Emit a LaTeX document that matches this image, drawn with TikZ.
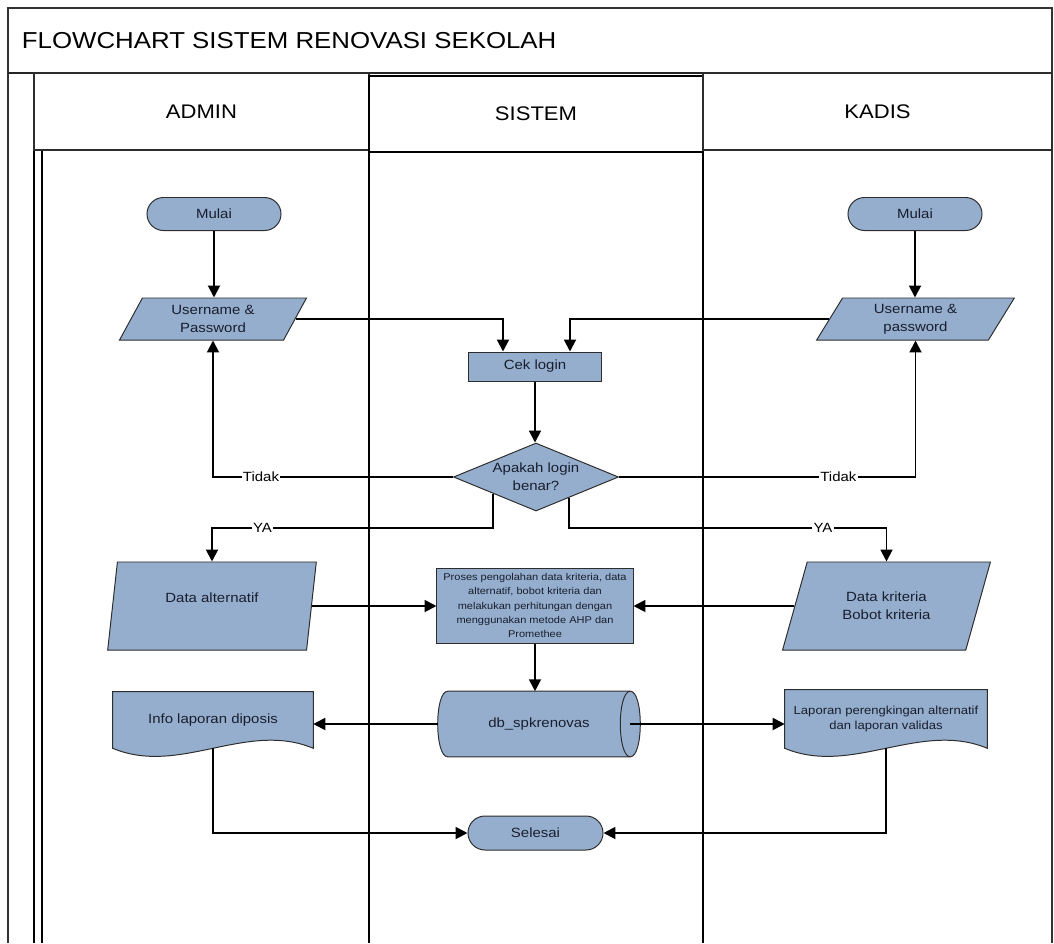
\documentclass[tikz,border=0pt]{standalone}
\usepackage{fontspec}
\setmainfont{Liberation Sans}[FakeStretch=1.12]
\usetikzlibrary{shapes.geometric,shapes.misc,arrows.meta,calc,backgrounds}

\definecolor{nodefill}{RGB}{149,174,206}
\definecolor{edgegray}{RGB}{45,45,45}
\definecolor{textdark}{RGB}{25,30,45}

\newcommand\fsTitle{\fontsize{16.4}{19}\selectfont}
\newcommand\fsHead{\fontsize{14}{16}\selectfont}
\newcommand\fsNode{\fontsize{9.5}{13}\selectfont}
\newcommand\fsSmall{\fontsize{7}{10}\selectfont}
\newcommand\fsDoc{\fontsize{8.3}{10.7}\selectfont}

\tikzset{
  shapeline/.style={draw=edgegray, line width=0.7pt, fill=nodefill},
  term/.style={rounded rectangle, shapeline, minimum width=3.35cm, minimum height=0.825cm,
    inner sep=0pt, font=\fsNode, text=textdark},
  procbox/.style={rectangle, shapeline, inner sep=0pt, font=\fsNode, text=textdark, align=center},
  io/.style={trapezium, trapezium left angle=64, trapezium right angle=116,
    trapezium stretches=true, shapeline, inner sep=0pt, font=\fsNode, text=textdark, align=center},
  decide/.style={diamond, aspect=2.4, shapeline, inner sep=0pt, minimum width=4.125cm,
    minimum height=1.7cm, font=\fsNode, text=textdark, align=center},
  ghost/.style={rectangle, draw=none, inner sep=0pt, font=\fsNode, text=textdark, align=center},
  header/.style={rectangle, draw=edgegray, line width=0.8pt, font=\fsHead, inner sep=0pt},
  lane/.style={line width=1pt, draw=black},
  arr/.style={line width=1.4pt, -{Triangle[length=8.5pt,width=8.5pt]}},
  lbl/.style={fill=white, inner sep=1pt, font=\fsNode},
}

\begin{document}
\begin{tikzpicture}[x=0.025cm, y=-0.025cm]
\useasboundingbox (0,0) rectangle (1054,943);

% title band and headers
\node[anchor=west, font=\fsTitle] (title) at (17,41) {FLOWCHART SISTEM RENOVASI SEKOLAH};
\node[header, minimum width=8.375cm, minimum height=1.925cm] (hAdmin) at (201.5,111.5) {ADMIN};
\node[header, draw=black, line width=1.1pt, minimum width=8.35cm, minimum height=1.9cm] (hSistem) at (536,114) {SISTEM};
\node[header, minimum width=8.725cm, minimum height=1.925cm] (hKadis) at (877.5,111.5) {KADIS};

% flow nodes
\node[term] (mulaiA) at (214,214) {Mulai};
\node[term] (mulaiK) at (915,214) {Mulai};
\node[io, minimum width=4.7cm, minimum height=1.05cm] (userA) at (213,319) {Username \&\\Password};
\node[io, minimum width=4.975cm, minimum height=1.05cm] (userK) at (915.5,319) {Username \&\\password};
\node[procbox, minimum width=3.3cm, minimum height=0.725cm] (cek) at (535,366.5) {Cek login};
\node[decide] (dia) at (536,477) {Apakah login\\benar?};
\node[io, minimum width=5.25cm, minimum height=2.2cm] (altA) at (212,606)
  {\raisebox{0.2cm}[\height][\depth]{Data alternatif}};
\node[io, minimum width=5.225cm, minimum height=2.2cm] (krit) at (886.5,606) {Data kriteria\\Bobot kriteria};
\node[procbox, minimum width=4.9cm, minimum height=1.875cm, font=\fsSmall] (proc) at (535,605.5)
  {Proses pengolahan data kriteria, data\\alternatif, bobot kriteria dan\\melakukan perhitungan dengan\\menggunakan metode AHP dan\\Promethee};
\node[ghost, minimum width=5.05cm, minimum height=1.625cm] (db) at (539,724) {db\_spkrenovas};
\node[ghost, minimum width=5cm, minimum height=1.4cm] (infoA) at (213,720) {Info laporan diposis};
\node[ghost, minimum width=5.05cm, minimum height=1.45cm, font=\fsDoc] (lapK) at (886,719)
  {Laporan perengkingan alternatif\\dan laporan validas};
\node[term, minimum width=3.375cm, minimum height=0.85cm] (selesai) at (535.5,833) {Selesai};

\coordinate (yaRow) at (0,528);

% pool frame, lanes and the drawn outlines of document and storage symbols
\begin{scope}[on background layer]
  \draw[line width=1.3pt, draw=black!80] (8,943) -- (8,8) -- (1052,8) -- (1052,943);
  \draw[line width=1.3pt, draw=black!85] (8,73) -- (1052,73);
  \draw[lane] (34,73) -- (34,943);
  \draw[lane, line width=0.8pt] (42,150) -- (42,943);
  \draw[lane] (369,152) -- (369,943);
  \draw[lane] (703,150) -- (703,943);

  \filldraw[shapeline] (infoA.south west) -- (infoA.north west) -- (infoA.north east) -- (infoA.south east)
    .. controls ($(infoA.south east)+(-67,-28)$) and ($(infoA.south west)+(67,28)$) .. (infoA.south west) -- cycle;
  \filldraw[shapeline] (lapK.south west) -- (lapK.north west) -- (lapK.north east) -- (lapK.south east)
    .. controls ($(lapK.south east)+(-67,-28)$) and ($(lapK.south west)+(67,28)$) .. (lapK.south west) -- cycle;

  \filldraw[shapeline] ($(db.north west)+(10,0)$)
    .. controls ($(db.north west)+(-3.3,0)$) and ($(db.south west)+(-3.3,0)$) .. ($(db.south west)+(10,0)$)
    -- ($(db.south east)+(-10,0)$)
    .. controls ($(db.south east)+(3.3,0)$) and ($(db.north east)+(3.3,0)$) .. ($(db.north east)+(-10,0)$)
    -- cycle;
  \draw[draw=edgegray, line width=0.7pt] ($(db.north east)+(-10,0)$)
    .. controls ($(db.north east)+(-23.3,0)$) and ($(db.south east)+(-23.3,0)$) .. ($(db.south east)+(-10,0)$);
\end{scope}

% connectors
\draw[arr] (mulaiA.south) -- (mulaiA.south |- userA.north);
\draw[arr] (mulaiK.south) -- (mulaiK.south |- userK.north);
\draw[arr] (userA.east) -| ($(cek.north)+(-32,0)$);
\draw[arr] (userK.west) -| ($(cek.north)+(35,0)$);
\draw[arr] (cek.south) -- (cek.south |- dia.north);
\draw[arr] (dia.west) -| (userA.south -| userA.center) node[lbl, pos=0.4] {Tidak};
\draw[arr] (dia.east) -| (userK.south -| userK.center) node[lbl, pos=0.37] {Tidak};
\draw[arr] ($(dia.west)!0.48!(dia.south)$) |- (yaRow -| altA.center) node[lbl, pos=0.91] {YA}
  -- (altA.north -| altA.center);
\draw[arr] ($(dia.east)!0.6!(dia.south)$) |- (yaRow -| krit.center) node[lbl, pos=0.9] {YA}
  -- (krit.north -| krit.center);
\draw[arr] (altA.east) -- (altA.east -| proc.west);
\draw[arr] (krit.west) -- (krit.west -| proc.east);
\draw[arr] (proc.south) -- (proc.south |- db.north);
\draw[arr] (db.west) -- (db.west -| infoA.east);
\draw[arr] ($(db.east)+(-10,0)$) -- (db.east -| lapK.west);
\draw[arr] (infoA.south) |- (selesai.west);
\draw[arr] (lapK.south) |- (selesai.east);
\end{tikzpicture}
\end{document}
